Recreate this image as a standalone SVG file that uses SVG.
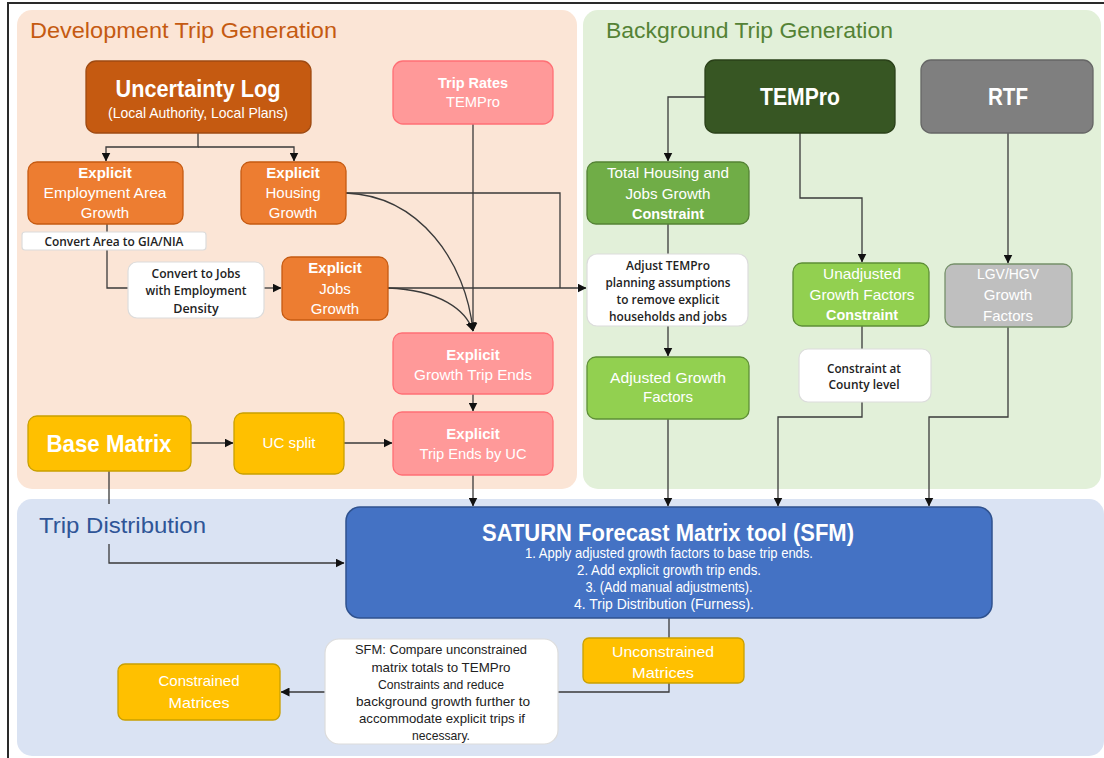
<svg xmlns="http://www.w3.org/2000/svg" width="1104" height="758" viewBox="0 0 1104 758">
<style>
text{font-family:"Liberation Sans",Arial,sans-serif;text-anchor:middle;}
.sec{font-size:22px;text-anchor:start;}
.w{fill:#ffffff;font-size:15px;}
.b{font-weight:bold;}
.dk{fill:#222222;font-family:"Open Sans","Liberation Sans",sans-serif;font-weight:600;font-size:12.5px;}
.big{fill:#ffffff;font-weight:bold;font-size:24px;}
.cn{fill:#ffffff;font-size:14px;}
.cd{fill:#222222;font-size:13.5px;}
.con path{fill:none;stroke:#3a3a3a;stroke-width:1.3;}
.arr{marker-end:url(#ah);}
.wb{fill:#ffffff;stroke:#dcdcdc;stroke-width:1.2;}
.or{fill:#ED7D31;stroke:#C55A11;stroke-width:1.3;}
.pk{fill:#FF9999;stroke:#FF6F75;stroke-width:1.3;}
.ye{fill:#FFC000;stroke:#C9A000;stroke-width:1.3;}
.lg{fill:#92D050;stroke:#5E8F36;stroke-width:1.3;}
</style>
<defs>
<marker id="ah" markerWidth="9" markerHeight="9" refX="8.5" refY="4.5" orient="auto" markerUnits="userSpaceOnUse"><path d="M0,0 L9,4.5 L0,9 z" fill="#111111"/></marker>
</defs>
<rect width="1104" height="758" fill="#ffffff"/>
<path d="M8,758 V3 H1104" fill="none" stroke="#2a2a2a" stroke-width="2"/>
<g id="sections">
<rect x="17" y="10" width="560" height="479" rx="15" fill="#FBE5D6"/>
<rect x="583" y="10" width="518" height="479" rx="15" fill="#E2F0D9"/>
<rect x="17" y="499" width="1087" height="257" rx="15" fill="#DAE3F3"/>
<text class="sec" x="30" y="38" fill="#C55A11" textLength="307" lengthAdjust="spacingAndGlyphs">Development Trip Generation</text>
<text class="sec" x="606" y="38" fill="#548235" textLength="287" lengthAdjust="spacingAndGlyphs">Background Trip Generation</text>
</g>
<g id="connectors" class="con">
<path class="arr" d="M198,133 V147 H106 V161"/>
<path class="arr" d="M198,147 H294 V161"/>
<path d="M107,224 V288 H128"/>
<path class="arr" d="M264,288 H281"/>
<path class="arr" d="M388,288 H586"/>
<path d="M346,193 H560 V288"/>
<path class="arr" d="M346,193 C420,196 466,262 473,331"/>
<path class="arr" d="M388,288 C440,290 466,310 473,331"/>
<path class="arr" d="M473,124 V331"/>
<path class="arr" d="M473,394 V411"/>
<path class="arr" d="M191,443 H233"/>
<path class="arr" d="M344,443 H392"/>
<path class="arr" d="M109,471 V563 H344"/>
<path class="arr" d="M473,475 V506"/>
<path class="arr" d="M705,97 H668 V161"/>
<path d="M668,224 V254"/>
<path class="arr" d="M668,326 V356"/>
<path class="arr" d="M668,419 V506"/>
<path class="arr" d="M800,133 V198 H862 V262"/>
<path d="M862,326 V349"/>
<path class="arr" d="M862,402 V417 H778 V506"/>
<path class="arr" d="M1008,133 V263"/>
<path class="arr" d="M1008,327 V417 H929 V506"/>
<path class="arr" d="M669,618 V692 H281"/>
</g>
<g id="trip-distribution-title">
<rect x="30" y="504" width="186" height="40" fill="#DAE3F3"/>
<text class="sec" x="39" y="533" fill="#2F5597" textLength="167" lengthAdjust="spacingAndGlyphs">Trip Distribution</text>
</g>
<g id="uncertainty-log">
<rect x="86" y="61" width="225" height="72" rx="10" fill="#C55A11" stroke="#9E4A12" stroke-width="1.3"/>
<text class="big" x="198" y="97" textLength="165" lengthAdjust="spacingAndGlyphs">Uncertainty Log</text>
<text class="w" x="198" y="118" font-size="14" textLength="180" lengthAdjust="spacingAndGlyphs">(Local Authority, Local Plans)</text>
</g>
<g id="trip-rates">
<rect class="pk" x="393" y="61" width="160" height="63" rx="10"/>
<text class="w b" x="473" y="88" font-size="14" textLength="70" lengthAdjust="spacingAndGlyphs">Trip Rates</text>
<text class="w" x="473" y="107" textLength="54" lengthAdjust="spacingAndGlyphs">TEMPro</text>
</g>
<g id="employment-area-growth">
<rect class="or" x="28" y="162" width="155" height="62" rx="9"/>
<text class="w b" x="105" y="178" font-size="14">Explicit</text>
<text class="w" x="105" y="198" textLength="123" lengthAdjust="spacingAndGlyphs">Employment Area</text>
<text class="w" x="105" y="218">Growth</text>
</g>
<g id="housing-growth">
<rect class="or" x="241" y="162" width="105" height="62" rx="9"/>
<text class="w b" x="293" y="178" font-size="14">Explicit</text>
<text class="w" x="293" y="198">Housing</text>
<text class="w" x="293" y="218">Growth</text>
</g>
<g id="convert-area">
<rect class="wb" x="22" y="232" width="184" height="18" rx="3"/>
<text class="dk" x="114" y="245.5" textLength="139" lengthAdjust="spacingAndGlyphs">Convert Area to GIA/NIA</text>
</g>
<g id="convert-jobs">
<rect class="wb" x="128" y="262" width="136" height="56" rx="9"/>
<text class="dk" x="196" y="277.5" textLength="89" lengthAdjust="spacingAndGlyphs">Convert to Jobs</text>
<text class="dk" x="196" y="295" textLength="101" lengthAdjust="spacingAndGlyphs">with Employment</text>
<text class="dk" x="196" y="312.5">Density</text>
</g>
<g id="jobs-growth">
<rect class="or" x="282" y="257" width="106" height="63" rx="9"/>
<text class="w b" x="335" y="273" font-size="14">Explicit</text>
<text class="w" x="335" y="294">Jobs</text>
<text class="w" x="335" y="314">Growth</text>
</g>
<g id="growth-trip-ends">
<rect class="pk" x="393" y="333" width="160" height="61" rx="9"/>
<text class="w b" x="473" y="360" font-size="14">Explicit</text>
<text class="w" x="473" y="380" textLength="118" lengthAdjust="spacingAndGlyphs">Growth Trip Ends</text>
</g>
<g id="trip-ends-uc">
<rect class="pk" x="393" y="412" width="160" height="63" rx="9"/>
<text class="w b" x="473" y="439" font-size="14">Explicit</text>
<text class="w" x="473" y="459" textLength="107" lengthAdjust="spacingAndGlyphs">Trip Ends by UC</text>
</g>
<g id="base-matrix">
<rect class="ye" x="28" y="416" width="163" height="55" rx="9"/>
<text class="big" x="109" y="452" font-size="25" textLength="125" lengthAdjust="spacingAndGlyphs">Base Matrix</text>
</g>
<g id="uc-split">
<rect class="ye" x="234" y="413" width="110" height="61" rx="9"/>
<text class="w" x="289" y="448" textLength="53" lengthAdjust="spacingAndGlyphs">UC split</text>
</g>
<g id="tempro">
<rect x="705" y="60" width="190" height="73" rx="10" fill="#375623" stroke="#2A4019" stroke-width="1.3"/>
<text class="big" x="800" y="105" textLength="80" lengthAdjust="spacingAndGlyphs">TEMPro</text>
</g>
<g id="rtf">
<rect x="921" y="60" width="172" height="73" rx="10" fill="#7F7F7F" stroke="#666666" stroke-width="1.3"/>
<text class="big" x="1008" y="105" textLength="40" lengthAdjust="spacingAndGlyphs">RTF</text>
</g>
<g id="total-housing-jobs">
<rect x="587" y="162" width="162" height="62" rx="9" fill="#70AD47" stroke="#548235" stroke-width="1.3"/>
<text class="w" x="668" y="178" textLength="122" lengthAdjust="spacingAndGlyphs">Total Housing and</text>
<text class="w" x="668" y="199" textLength="85" lengthAdjust="spacingAndGlyphs">Jobs Growth</text>
<text class="w b" x="668" y="219" font-size="14" textLength="72" lengthAdjust="spacingAndGlyphs">Constraint</text>
</g>
<g id="adjust-tempro">
<rect class="wb" x="587" y="254" width="161" height="72" rx="10"/>
<text class="dk" x="668" y="269.5" textLength="84" lengthAdjust="spacingAndGlyphs">Adjust TEMPro</text>
<text class="dk" x="668" y="286.5" textLength="125" lengthAdjust="spacingAndGlyphs">planning assumptions</text>
<text class="dk" x="668" y="303.5" textLength="103" lengthAdjust="spacingAndGlyphs">to remove explicit</text>
<text class="dk" x="668" y="320.5" textLength="118" lengthAdjust="spacingAndGlyphs">households and jobs</text>
</g>
<g id="adjusted-growth-factors">
<rect class="lg" x="587" y="357" width="162" height="62" rx="9"/>
<text class="w" x="668" y="383" textLength="116" lengthAdjust="spacingAndGlyphs">Adjusted Growth</text>
<text class="w" x="668" y="402">Factors</text>
</g>
<g id="unadjusted-growth-factors">
<rect class="lg" x="793" y="263" width="136" height="63" rx="9"/>
<text class="w" x="862" y="279" textLength="78" lengthAdjust="spacingAndGlyphs">Unadjusted</text>
<text class="w" x="862" y="300" textLength="105" lengthAdjust="spacingAndGlyphs">Growth Factors</text>
<text class="w b" x="862" y="320" font-size="14" textLength="72" lengthAdjust="spacingAndGlyphs">Constraint</text>
</g>
<g id="county-level">
<rect class="wb" x="799" y="349" width="132" height="53" rx="9"/>
<text class="dk" x="864" y="372.5" textLength="74" lengthAdjust="spacingAndGlyphs">Constraint at</text>
<text class="dk" x="864" y="388.5" textLength="71" lengthAdjust="spacingAndGlyphs">County level</text>
</g>
<g id="lgv-hgv">
<rect x="945" y="264" width="127" height="63" rx="9" fill="#BFBFBF" stroke="#76906A" stroke-width="1.3"/>
<text class="w" x="1008" y="279" fill="#F4F4F4" textLength="62" lengthAdjust="spacingAndGlyphs">LGV/HGV</text>
<text class="w" x="1008" y="300" fill="#F4F4F4">Growth</text>
<text class="w" x="1008" y="321" fill="#F4F4F4">Factors</text>
</g>
<g id="sfm">
<rect x="346" y="507" width="646" height="111" rx="14" fill="#4472C4" stroke="#2F528F" stroke-width="1.5"/>
<text class="big" x="668" y="541" textLength="372" lengthAdjust="spacingAndGlyphs">SATURN Forecast Matrix tool (SFM)</text>
<text class="cn" x="669" y="558" textLength="288" lengthAdjust="spacingAndGlyphs">1. Apply adjusted growth factors to base trip ends.</text>
<text class="cn" x="669" y="575" textLength="184" lengthAdjust="spacingAndGlyphs">2. Add explicit growth trip ends.</text>
<text class="cn" x="669" y="592" textLength="167" lengthAdjust="spacingAndGlyphs">3. (Add manual adjustments).</text>
<text class="cn" x="664" y="609" textLength="180" lengthAdjust="spacingAndGlyphs">4. Trip Distribution (Furness).</text>
</g>
<g id="unconstrained-matrices">
<rect class="ye" x="583" y="638" width="161" height="45" rx="6"/>
<text class="w" x="663" y="657" fill="#FFF4D6" textLength="102" lengthAdjust="spacingAndGlyphs">Unconstrained</text>
<text class="w" x="663" y="678" fill="#FFF4D6" textLength="62" lengthAdjust="spacingAndGlyphs">Matrices</text>
</g>
<g id="compare-box">
<rect class="wb" x="325" y="639" width="233" height="105" rx="14"/>
<text class="cd" x="441" y="654" textLength="172" lengthAdjust="spacingAndGlyphs">SFM: Compare unconstrained</text>
<text class="cd" x="441" y="671.5" textLength="139" lengthAdjust="spacingAndGlyphs">matrix totals to TEMPro</text>
<text class="cd" x="441" y="689" textLength="126" lengthAdjust="spacingAndGlyphs">Constraints and reduce</text>
<text class="cd" x="443" y="706" textLength="174" lengthAdjust="spacingAndGlyphs">background growth further to</text>
<text class="cd" x="442" y="723" textLength="166" lengthAdjust="spacingAndGlyphs">accommodate explicit trips if</text>
<text class="cd" x="441" y="740" textLength="58" lengthAdjust="spacingAndGlyphs">necessary.</text>
</g>
<g id="constrained-matrices">
<rect class="ye" x="118" y="664" width="162" height="56" rx="7"/>
<text class="w" x="199" y="686" fill="#FFF4D6" textLength="81" lengthAdjust="spacingAndGlyphs">Constrained</text>
<text class="w" x="199" y="708" fill="#FFF4D6" textLength="61" lengthAdjust="spacingAndGlyphs">Matrices</text>
</g>
</svg>
